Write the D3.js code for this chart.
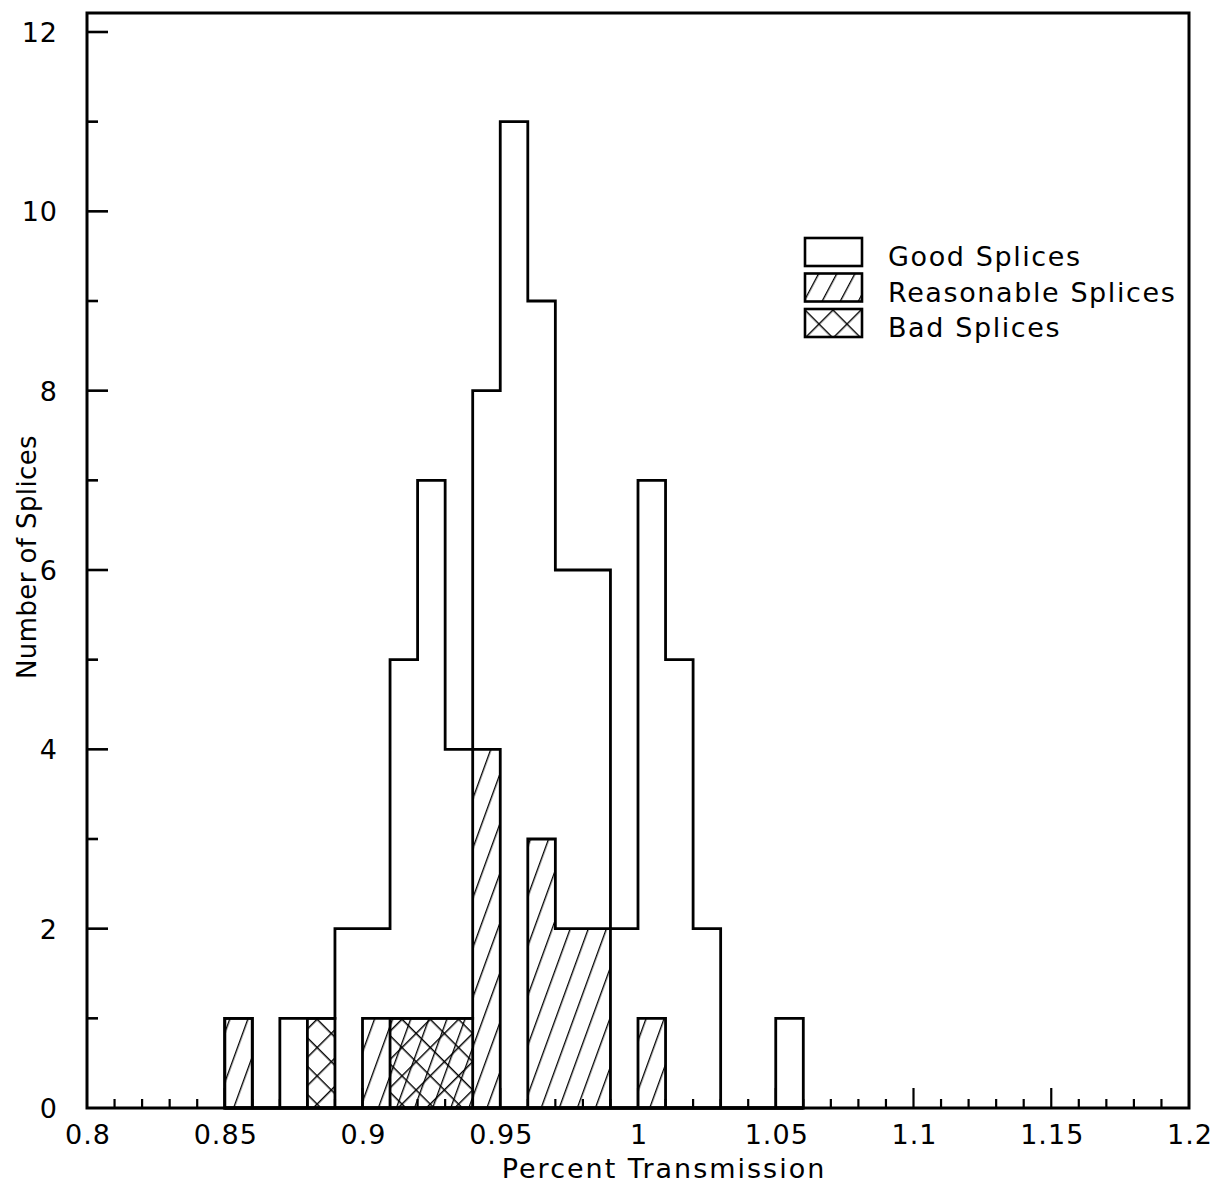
<!DOCTYPE html>
<html>
<head>
<meta charset="utf-8">
<script src="https://cdn.jsdelivr.net/npm/d3@7"></script>
<style>
  html, body { margin: 0; padding: 0; background: #fff; }
  svg { display: block; font-family: "DejaVu Sans", sans-serif; }
</style>
</head>
<body>
<svg id="chart" width="1215" height="1186"></svg>
<script>
// ---- data ----
const binStarts = [0.85,0.86,0.87,0.88,0.89,0.90,0.91,0.92,0.93,0.94,0.95,0.96,0.97,0.98,0.99,1.00,1.01,1.02,1.03,1.04,1.05];
const binWidth = 0.01;
const goodCounts       = [1,0,1,1,2,2,5,7,4,8,11,9,6,6,2,7,5,2,0,0,1];
const reasonableCounts = [1,0,0,0,0,1,1,1,1,4,0,3,2,2,0,1,0,0,0,0,0];
const badCounts        = [0,0,0,1,0,0,1,1,1,0,0,0,0,0,0,0,0,0,0,0,0];
const xTickLabels = [0.8,0.85,0.9,0.95,1,1.05,1.1,1.15,1.2];
const yTickLabels = [0,2,4,6,8,10,12];
const legendLabels = ["Good Splices","Reasonable Splices","Bad Splices"];
const xTitle = "Percent Transmission";
const yTitle = "Number of Splices";

// ---- layout ----
const svg = d3.select("#chart");
const x = d3.scaleLinear().domain([0.8, 1.2]).range([87, 1189]);
const y = d3.scaleLinear().domain([0, 12]).range([1108, 32]);
const frameTop = 13;
const legX = 805, legY = 238, legStep = 35.5;

// patterns
const defs = svg.append("defs");
const hatch = defs.append("pattern").attr("id","hatch")
  .attr("patternUnits","userSpaceOnUse").attr("width",17).attr("height",17)
  .attr("patternTransform","translate(3,0) rotate(20)");
hatch.append("line").attr("x1",0).attr("y1",-5).attr("x2",0).attr("y2",22)
  .attr("stroke","#000").attr("stroke-width",2.7);
const cross = defs.append("pattern").attr("id","cross")
  .attr("patternUnits","userSpaceOnUse").attr("width",20).attr("height",20)
  .attr("patternTransform","translate(6,0) rotate(45)");
cross.append("line").attr("x1",0).attr("y1",-5).attr("x2",0).attr("y2",25)
  .attr("stroke","#000").attr("stroke-width",2.9);
cross.append("line").attr("x1",-5).attr("y1",0).attr("x2",25).attr("y2",0)
  .attr("stroke","#000").attr("stroke-width",2.9);
const lhatch = defs.append("pattern").attr("id","lhatch")
  .attr("patternUnits","userSpaceOnUse").attr("width",16).attr("height",16)
  .attr("patternTransform","translate(3,0) rotate(28)");
lhatch.append("line").attr("x1",0).attr("y1",-5).attr("x2",0).attr("y2",22)
  .attr("stroke","#000").attr("stroke-width",2.7);
const lcross = defs.append("pattern").attr("id","lcross")
  .attr("patternUnits","userSpaceOnUse").attr("width",19.8).attr("height",19.8)
  .attr("patternTransform",`translate(${legX},${legY + 2 * legStep}) rotate(45)`);
lcross.append("line").attr("x1",0).attr("y1",-5).attr("x2",0).attr("y2",25)
  .attr("stroke","#000").attr("stroke-width",2.8);
lcross.append("line").attr("x1",-5).attr("y1",0).attr("x2",25).attr("y2",0)
  .attr("stroke","#000").attr("stroke-width",2.8);

// step histogram path builder
function stepPoints(counts) {
  const pts = [[binStarts[0], 0]];
  counts.forEach((c, i) => {
    pts.push([binStarts[i], c]);
    pts.push([binStarts[i] + binWidth, c]);
  });
  pts.push([binStarts[binStarts.length - 1] + binWidth, 0]);
  return pts;
}
const line = d3.line().x(d => x(d[0])).y(d => y(d[1]));

const plot = svg.append("g");
plot.append("path").attr("d", line(stepPoints(goodCounts)) + "Z")
  .attr("fill","none").attr("stroke","#000").attr("stroke-width",2.8).attr("stroke-linejoin","miter");
plot.append("path").attr("d", line(stepPoints(reasonableCounts)) + "Z")
  .attr("fill","url(#hatch)").attr("stroke","#000").attr("stroke-width",2.8);
plot.append("path").attr("d", line(stepPoints(badCounts)) + "Z")
  .attr("fill","url(#cross)").attr("stroke","#000").attr("stroke-width",2.8);

// frame
svg.append("rect").attr("x", x(0.8)).attr("y", frameTop)
  .attr("width", x(1.2) - x(0.8)).attr("height", y(0) - frameTop)
  .attr("fill","none").attr("stroke","#000").attr("stroke-width",3);

// x ticks (inward): minor every 0.01, major at labels
const xMinor = d3.range(1, 40).map(i => 0.8 + i * 0.01);
svg.append("g").selectAll("line").data(xMinor).join("line")
  .attr("x1", d => x(d)).attr("x2", d => x(d))
  .attr("y1", y(0)).attr("y2", (d, i) => y(0) - (((i + 1) % 5 === 0) ? 20 : 9))
  .attr("stroke","#000").attr("stroke-width",2.2);
svg.append("g").selectAll("text").data(xTickLabels).join("text")
  .attr("x", d => x(d) + 1).attr("y", 1144)
  .attr("text-anchor","middle").attr("font-size", 27).attr("letter-spacing", 1)
  .text(d => d3.format("")(d));

// y ticks (inward)
const yAll = d3.range(1, 13);
svg.append("g").selectAll("line").data(yAll).join("line")
  .attr("x1", x(0.8)).attr("x2", d => x(0.8) + (d % 2 === 0 ? 21 : 11))
  .attr("y1", d => y(d)).attr("y2", d => y(d))
  .attr("stroke","#000").attr("stroke-width",2.6);
svg.append("g").selectAll("text").data(yTickLabels).join("text")
  .attr("x", 58).attr("y", d => y(d) + 10)
  .attr("text-anchor","end").attr("font-size", 27).attr("letter-spacing", 1)
  .text(d => d);

// axis titles
svg.append("text").attr("x", 664).attr("y", 1178)
  .attr("text-anchor","middle").attr("font-size", 27).attr("letter-spacing", 2)
  .text(xTitle);
svg.append("text").attr("transform","translate(36,557) rotate(-90)")
  .attr("text-anchor","middle").attr("font-size", 26).attr("letter-spacing", 0.4)
  .text(yTitle);

// legend
const legFills = ["#fff","url(#lhatch)","url(#lcross)"];
const leg = svg.append("g");
legendLabels.forEach((lab, i) => {
  const top = legY + i * legStep;
  leg.append("rect").attr("x", legX).attr("y", top).attr("width", 57).attr("height", 28)
    .attr("fill", legFills[i])
    .attr("stroke","#000").attr("stroke-width",2.6);
  leg.append("text").attr("x", 888).attr("y", top + 28)
    .attr("font-size", 27).attr("letter-spacing", 1.6).text(lab);
});
</script>
</body>
</html>
